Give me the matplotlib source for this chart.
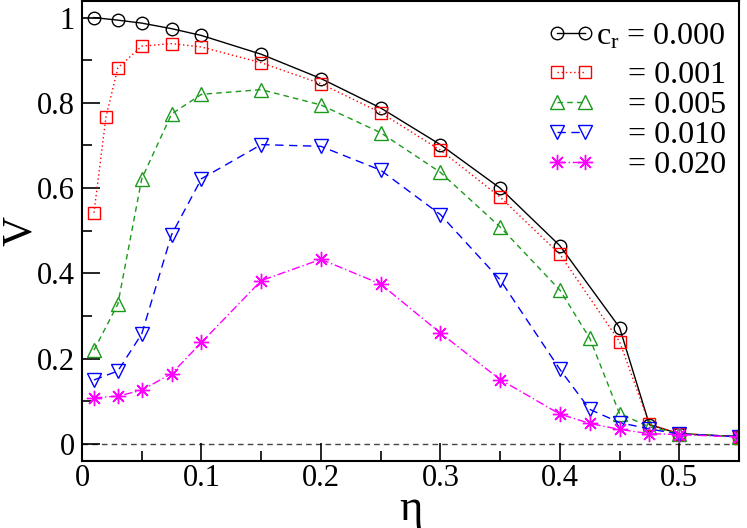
import matplotlib
matplotlib.use("Agg")
import matplotlib.pyplot as plt

plt.rcParams['font.family'] = ['Liberation Serif', 'DejaVu Serif']
plt.rcParams['mathtext.fontset'] = 'custom'
plt.rcParams['mathtext.rm'] = 'Liberation Serif'
plt.rcParams['mathtext.it'] = 'Liberation Serif:italic'

eta_c000 = [0.01, 0.03, 0.05, 0.075, 0.1, 0.15, 0.2, 0.25, 0.3, 0.35, 0.4, 0.45, 0.475, 0.5, 0.55]
v_c000 = [1.000, 0.994, 0.987, 0.974, 0.958, 0.914, 0.857, 0.788, 0.702, 0.600, 0.465, 0.273, 0.045, 0.024, 0.017]

eta_c001 = [0.01, 0.02, 0.03, 0.05, 0.075, 0.1, 0.15, 0.2, 0.25, 0.3, 0.35, 0.4, 0.45, 0.475, 0.5, 0.55]
v_c001 = [0.542, 0.766, 0.882, 0.933, 0.939, 0.931, 0.894, 0.845, 0.777, 0.689, 0.579, 0.445, 0.240, 0.046, 0.024, 0.017]

eta_c005 = [0.01, 0.03, 0.05, 0.075, 0.1, 0.15, 0.2, 0.25, 0.3, 0.35, 0.4, 0.425, 0.45, 0.475, 0.5, 0.55]
v_c005 = [0.220, 0.328, 0.622, 0.774, 0.820, 0.831, 0.795, 0.730, 0.637, 0.509, 0.361, 0.248, 0.071, 0.040, 0.024, 0.017]

eta_c010 = [0.01, 0.03, 0.05, 0.075, 0.1, 0.15, 0.2, 0.25, 0.3, 0.35, 0.4, 0.425, 0.45, 0.475, 0.5, 0.55]
v_c010 = [0.150, 0.171, 0.258, 0.491, 0.622, 0.702, 0.698, 0.642, 0.538, 0.385, 0.175, 0.081, 0.050, 0.035, 0.023, 0.017]

eta_c020 = [0.01, 0.03, 0.05, 0.075, 0.1, 0.15, 0.2, 0.25, 0.3, 0.35, 0.4, 0.425, 0.45, 0.475, 0.5, 0.55]
v_c020 = [0.108, 0.112, 0.126, 0.165, 0.238, 0.383, 0.433, 0.375, 0.260, 0.151, 0.070, 0.048, 0.034, 0.024, 0.022, 0.016]

labels = [r"$\mathregular{c_r}$ = 0.000", "= 0.001", "= 0.005", "= 0.010", "= 0.020"]
xtick_vals = [0, 0.1, 0.2, 0.3, 0.4, 0.5]
xtick_labels = ['0', '0.1', '0.2', '0.3', '0.4', '0.5']
ytick_vals = [0, 0.2, 0.4, 0.6, 0.8, 1.0]
ytick_labels = ['0', '0.2', '0.4', '0.6', '0.8', '1']

fig = plt.figure(figsize=(7.47, 5.28), dpi=100)
ax = fig.add_axes([0.1098, 0.127, 0.8795, 0.872])

ax.axhline(0, color='#444444', lw=1.0, ls=(0, (4, 3)), zorder=1)

ms = 9
l0, = ax.plot(eta_c000, v_c000, color='black', lw=1.0, ls='-', marker='o', ms=ms,
              mfc='none', mec='black', mew=1.0, label=labels[0])
l1, = ax.plot(eta_c001, v_c001, color='red', lw=1.0, ls=(0, (1, 2)), marker='s', ms=ms - 1,
              mfc='none', mec='red', mew=1.0, label=labels[1])
l2, = ax.plot(eta_c005, v_c005, color='#1a9a1a', lw=1.0, ls=(0, (4, 3)), marker='^', ms=ms + 1,
              mfc='none', mec='#1a9a1a', mew=1.0, label=labels[2])
l3, = ax.plot(eta_c010, v_c010, color='blue', lw=1.0, ls=(0, (6, 4)), marker='v', ms=ms + 1,
              mfc='none', mec='blue', mew=1.0, label=labels[3])
l4, = ax.plot(eta_c020, v_c020, color='magenta', lw=1.0, ls=(0, (6, 2, 1, 2)), marker=(8, 2, 0), ms=ms + 2,
              mfc='none', mec='magenta', mew=1.0, label=labels[4])

ax.set_xlim(0, 0.55)
ax.set_ylim(-0.04, 1.04)
ax.set_xticks(xtick_vals)
ax.set_xticklabels(xtick_labels)
ax.set_xticks([0.05, 0.15, 0.25, 0.35, 0.45], minor=True)
ax.set_yticks(ytick_vals)
ax.set_yticklabels(ytick_labels)
ax.set_yticks([0.1, 0.3, 0.5, 0.7, 0.9], minor=True)
ax.tick_params(which='both', direction='in', top=False, right=False, labelsize=22, width=1.2)
ax.tick_params(which='major', length=13)
ax.tick_params(which='minor', length=7)
ax.tick_params(axis='x', which='major', pad=2)
ax.tick_params(axis='y', which='major', pad=5)
for s in ax.spines.values():
    s.set_linewidth(1.5)

ax.set_xlabel("η", fontsize=32)
ax.xaxis.set_label_coords(0.5, -0.06)
ax.xaxis.label.set_va('top')
ax.set_ylabel("V", fontsize=30)
ax.yaxis.set_label_coords(-0.064, 0.5)

common = dict(fontsize=23, frameon=False, handlelength=1.45, numpoints=2,
              borderpad=0.0, borderaxespad=0.0, loc='center left')
leg1 = ax.legend([l0], [labels[0]], handletextpad=0.05, labelspacing=0.0,
                 bbox_to_anchor=(0.709, 0.922), **common)
ax.add_artist(leg1)
leg2 = ax.legend([l1, l2, l3, l4], labels[1:], handletextpad=1.05, labelspacing=0.02,
                 bbox_to_anchor=(0.709, 0.740), **common)

fig.savefig("out.png", dpi=100)
